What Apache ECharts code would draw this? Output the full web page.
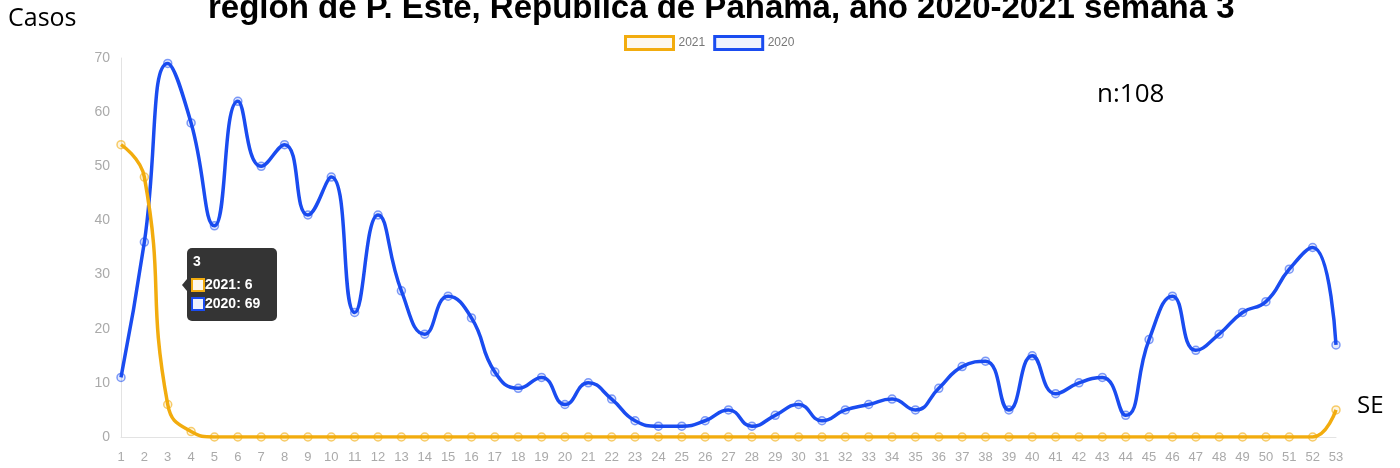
<!DOCTYPE html>
<html>
<head>
<meta charset="utf-8">
<script src="https://cdn.jsdelivr.net/npm/echarts@6/dist/echarts.min.js"></script>
<style>
html,body{margin:0;padding:0;background:#fff;}
#chart{width:1400px;height:468px;}
</style>
</head>
<body>
<div id="chart"></div>
<script>
const weeks = ['1','2','3','4','5','6','7','8','9','10','11','12','13','14','15','16','17','18','19','20','21','22','23','24','25','26','27','28','29','30','31','32','33','34','35','36','37','38','39','40','41','42','43','44','45','46','47','48','49','50','51','52','53'];
const cases2020 = [11,36,69,58,39,62,50,54,41,48,23,41,27,19,26,22,12,9,11,6,10,7,3,2,2,3,5,2,4,6,3,5,6,7,5,9,13,14,5,15,8,10,11,4,18,26,16,19,23,25,31,35,17];
const cases2021 = [54,48,6,1,0,0,0,0,0,0,0,0,0,0,0,0,0,0,0,0,0,0,0,0,0,0,0,0,0,0,0,0,0,0,0,0,0,0,0,0,0,0,0,0,0,0,0,0,0,0,0,0,5];
const yTicks = [0,10,20,30,40,50,60,70];
const titleText = 'región de P. Este, República de Panamá, año 2020-2021 semana 3';
const tipIndex = 2;

const BLUE = '#1a4cf0';
const ORANGE = '#f2ac0e';

const chart = echarts.init(document.getElementById('chart'));
chart.setOption({
  animation: false,
  backgroundColor: '#fff',
  title: {
    text: titleText,
    left: 203,
    top: -13,
    textStyle: {fontFamily: 'Liberation Sans, Arial', fontWeight: 'bold', fontSize: 33, color: '#000'}
  },
  legend: {
    left: 619,
    top: 30,
    itemWidth: 48,
    itemHeight: 13,
    itemGap: 8,
    textStyle: {fontFamily: 'Liberation Sans, Arial', fontSize: 12, color: '#777'},
    data: [
      {name: '2021', icon: 'rect', itemStyle: {color: '#fdf8ee', borderColor: ORANGE, borderWidth: 3}},
      {name: '2020', icon: 'rect', itemStyle: {color: '#eef2fd', borderColor: BLUE, borderWidth: 3}}
    ]
  },
  grid: {left: 121, right: 64, top: 58, bottom: 31, containLabel: false},
  xAxis: {
    type: 'category',
    data: weeks,
    boundaryGap: false,
    axisLine: {lineStyle: {color: '#e3e3e3', width: 1}},
    axisTick: {show: false},
    axisLabel: {color: '#aaa', fontSize: 13, margin: 14, interval: 0, fontFamily: 'Liberation Sans, Arial'},
    splitLine: {show: false}
  },
  yAxis: {
    type: 'value',
    min: yTicks[0],
    max: yTicks[yTicks.length - 1],
    interval: yTicks[1] - yTicks[0],
    axisLine: {show: true, lineStyle: {color: '#e3e3e3', width: 1}},
    axisTick: {show: false},
    axisLabel: {color: '#aaa', fontSize: 14, margin: 11, fontFamily: 'Liberation Sans, Arial'},
    splitLine: {show: false}
  },
  series: [
    {
      name: '2020',
      type: 'line',
      data: cases2020,
      smooth: 0.5,
      symbol: 'circle',
      symbolSize: 8,
      lineStyle: {color: BLUE, width: 3.5},
      itemStyle: {color: 'rgba(26,76,240,0.12)', borderColor: 'rgba(26,76,240,0.55)', borderWidth: 1.5},
      z: 2
    },
    {
      name: '2021',
      type: 'line',
      data: cases2021,
      smooth: 0.5,
      symbol: 'circle',
      symbolSize: 8,
      lineStyle: {color: ORANGE, width: 3.5},
      itemStyle: {color: 'rgba(242,172,14,0.12)', borderColor: 'rgba(242,172,14,0.6)', borderWidth: 1.5},
      z: 3
    }
  ],
  graphic: [
    {type: 'text', left: 8, top: 6, style: {text: 'Casos', fontFamily: 'Open Sans', fontSize: 25, fill: '#000'}},
    {type: 'text', left: 1097, top: 82, style: {text: 'n:108', fontFamily: 'Open Sans', fontSize: 26, fill: '#000'}},
    {type: 'text', left: 1357, top: 394, style: {text: 'SE', fontFamily: 'Open Sans', fontSize: 24, fill: '#000'}},
    {
      type: 'group', left: 182, top: 248, z: 100,
      children: [
        {type: 'rect', shape: {x: 5, y: 0, width: 90, height: 73, r: 5}, style: {fill: 'rgba(30,30,30,0.9)'}},
        {type: 'polygon', shape: {points: [[0, 37], [5, 31], [5, 43]]}, style: {fill: 'rgba(30,30,30,0.9)'}},
        {type: 'text', x: 11, y: 7, style: {text: weeks[tipIndex], fontFamily: 'Liberation Sans, Arial', fontWeight: 'bold', fontSize: 14, fill: '#fff'}},
        {type: 'rect', shape: {x: 10, y: 31, width: 12, height: 12}, style: {fill: '#fdf8ee', stroke: ORANGE, lineWidth: 2}},
        {type: 'text', x: 23, y: 30, style: {text: '2021: ' + cases2021[tipIndex], fontFamily: 'Liberation Sans, Arial', fontWeight: 'bold', fontSize: 14, fill: '#fff'}},
        {type: 'rect', shape: {x: 10, y: 50, width: 12, height: 12}, style: {fill: '#eef2fd', stroke: BLUE, lineWidth: 2}},
        {type: 'text', x: 23, y: 49, style: {text: '2020: ' + cases2020[tipIndex], fontFamily: 'Liberation Sans, Arial', fontWeight: 'bold', fontSize: 14, fill: '#fff'}}
      ]
    }
  ]
});
</script>
</body>
</html>
